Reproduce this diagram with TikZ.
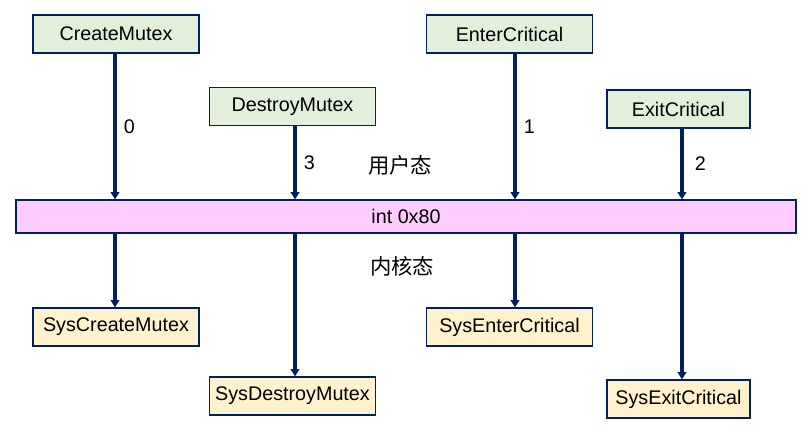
\documentclass[tikz,border=0pt]{standalone}
\usepackage{fontspec}
\setmainfont{Liberation Sans}
\newfontfamily\cjk{Noto Sans CJK SC}
\usetikzlibrary{arrows.meta}

\definecolor{navy}{RGB}{0,32,96}
\definecolor{userfill}{RGB}{226,239,218}
\definecolor{kernfill}{RGB}{255,242,204}
\definecolor{trapfill}{RGB}{255,204,255}

\begin{document}
\begin{tikzpicture}[x=0.75pt, y=-0.75pt,
  every node/.style={font=\fontsize{14.8}{17}\selectfont},
  api/.style={draw=navy, fill=userfill, line width=0.9pt, minimum width=124.5pt, minimum height=28.5pt, inner sep=0},
  sys/.style={api, fill=kernfill},
  call/.style={draw=navy, line width=2.5pt, -{Triangle[length=5.5pt, width=6.5pt]}}]

\useasboundingbox (0,0) rectangle (803,428);

\node[draw=navy, fill=trapfill, line width=0.9pt, minimum width=585pt, minimum height=24.75pt, inner sep=0] (int) at (406,216.5) {int 0x80};

\node[api] (cm) at (116,34) {CreateMutex};
\node[api] (dm) at (292.5,106.5) {DestroyMutex};
\node[api] (ec) at (509.5,34) {EnterCritical};
\node[api, minimum width=107.25pt] (xc) at (678.5,109) {ExitCritical};

\node[sys] (scm) at (116,327) {SysCreateMutex};
\node[sys] (sdm) at (292.5,396) {SysDestroyMutex};
\node[sys] (sec) at (509.5,327) {SysEnterCritical};
\node[sys, minimum width=107.25pt] (sxc) at (678.5,399) {SysExitCritical};

\node (user) at (400,165) {\cjk\fontsize{16}{18}\selectfont 用户态};
\node (kern) at (402,266) {\cjk\fontsize{16}{18}\selectfont 内核态};

\coordinate (p0) at ([xshift=-0.75pt]cm.south);
\coordinate (p3) at ([xshift=1.9pt]dm.south);
\coordinate (p1) at ([xshift=4.1pt]ec.south);
\coordinate (p2) at ([xshift=2.6pt]xc.south);

\draw[call] (p0) -- (p0 |- int.north) node[midway, right=2pt] {0};
\draw[call] (p3) -- (p3 |- int.north) node[midway, right=2pt] {3};
\draw[call] (p1) -- (p1 |- int.north) node[midway, right=2pt] {1};
\draw[call] (p2) -- (p2 |- int.north) node[midway, right=5pt] {2};

\draw[call] (p0 |- int.south) -- (p0 |- scm.north);
\draw[call] (p3 |- int.south) -- (p3 |- sdm.north);
\draw[call] (p1 |- int.south) -- (p1 |- sec.north);
\draw[call] (p2 |- int.south) -- (p2 |- sxc.north);

\end{tikzpicture}
\end{document}
